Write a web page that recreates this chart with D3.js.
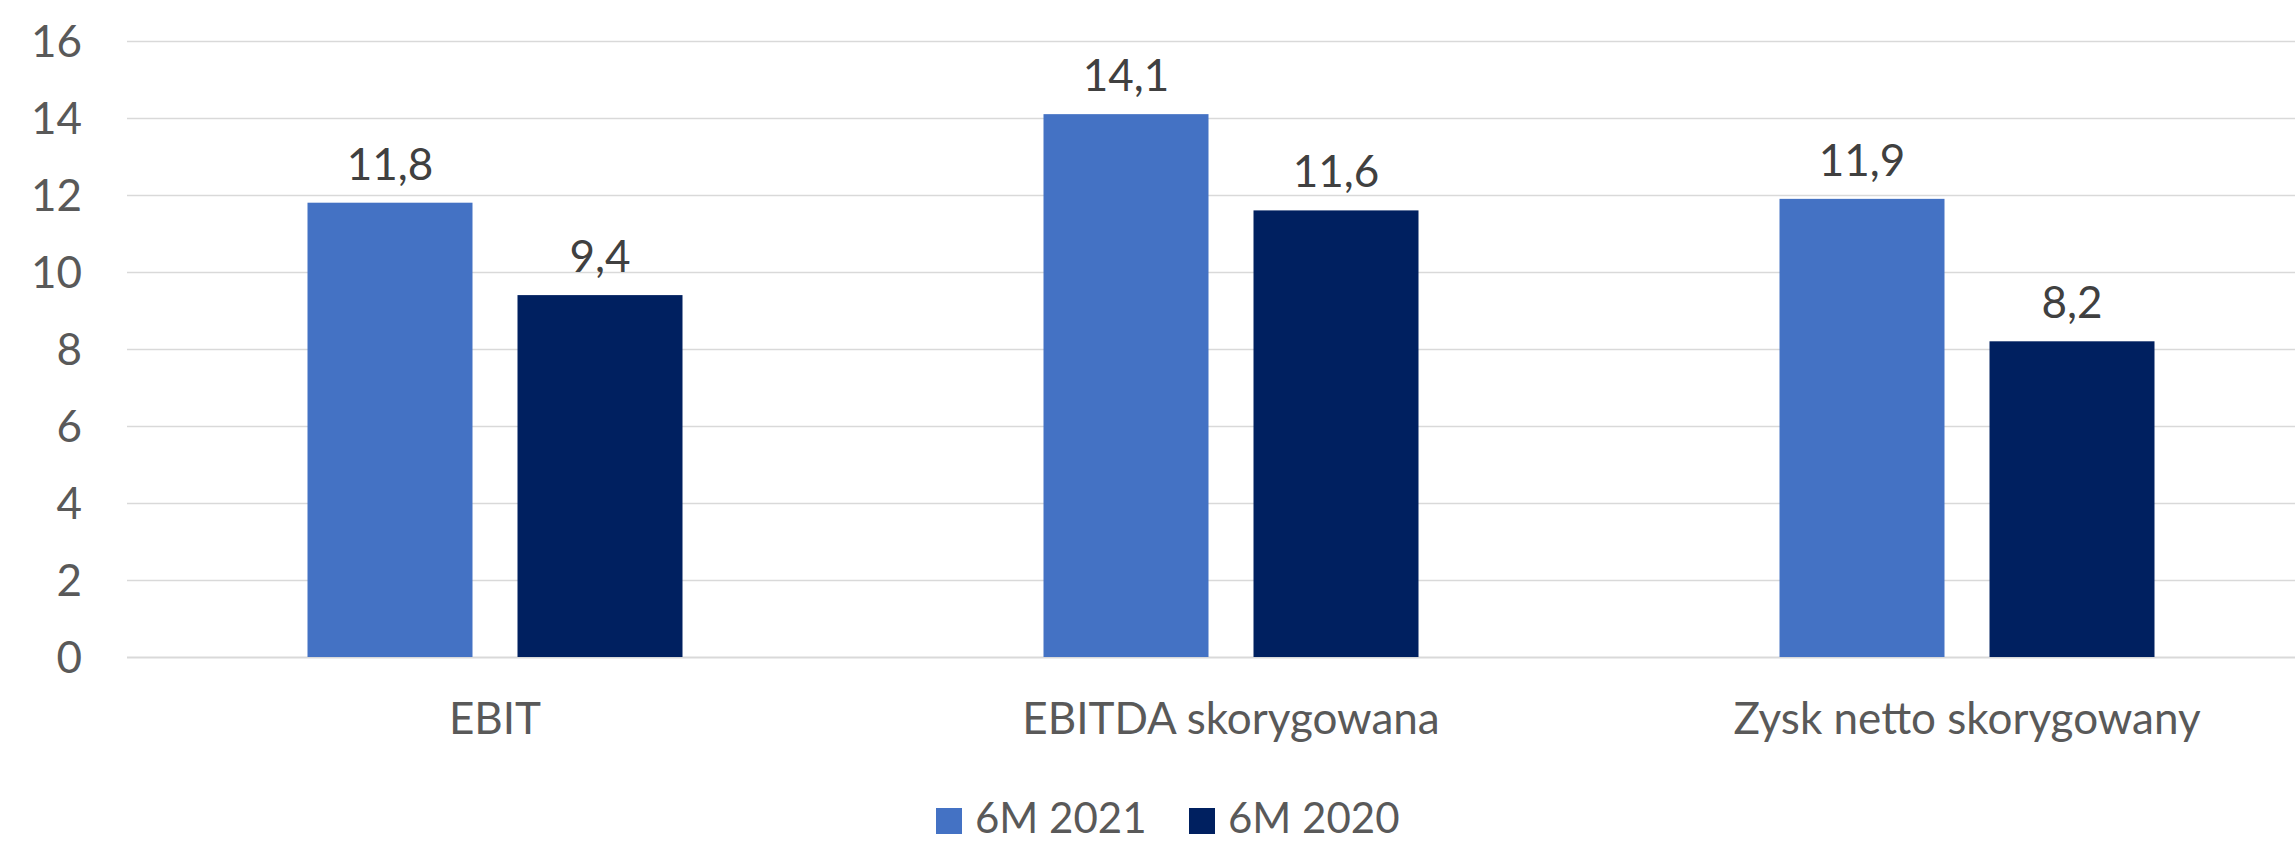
<!DOCTYPE html>
<html>
<head>
<meta charset="utf-8">
<script src="https://cdn.jsdelivr.net/npm/d3@7"></script>
<style>
  html, body { margin: 0; padding: 0; background: #ffffff; }
  svg { display: block; font-family: Lato, "Open Sans", sans-serif; }
</style>
</head>
<body>
<svg id="chart" width="2295" height="842"></svg>
<script>
// Wyniki finansowe (mln zł)
const categories = ["EBIT", "EBITDA skorygowana", "Zysk netto skorygowany"];
const seriesNames = ["6M 2021", "6M 2020"];
const values2021 = [11.8, 14.1, 11.9];
const values2020 = [9.4, 11.6, 8.2];
const yTicks = [0, 2, 4, 6, 8, 10, 12, 14, 16];
const seriesColors = ["#4472C4", "#002060"];

const series = [values2021, values2020];

const svg = d3.select("#chart");
const plot = { left: 127, right: 2335, top: 41, bottom: 657 };

const x = d3.scaleBand()
  .domain(categories)
  .range([plot.left, plot.right])
  .paddingInner(0)
  .paddingOuter(0);

const y = d3.scaleLinear()
  .domain([0, 16])
  .range([plot.bottom, plot.top]);

// inner band for the two series: 165px bars, 45px gap
const groupWidth = 375;
const xs = d3.scaleBand()
  .domain(seriesNames)
  .range([0, groupWidth])
  .paddingInner(45 / 210)
  .paddingOuter(0);

// horizontal gridlines
const grid = svg.append("g")
  .attr("transform", `translate(${plot.left},0)`)
  .call(d3.axisLeft(y).tickValues(yTicks).tickSize(-(plot.right - plot.left)).tickFormat(""));
grid.select(".domain").remove();
grid.selectAll(".tick line")
  .attr("stroke", "#D9D9D9")
  .attr("stroke-width", d => d === 0 ? 2 : 1.5);

// y-axis labels
const yAxis = svg.append("g")
  .attr("transform", `translate(82,0)`)
  .call(d3.axisLeft(y).tickValues(yTicks).tickSize(0).tickPadding(0).tickFormat(d3.format("d")));
yAxis.select(".domain").remove();
yAxis.selectAll(".tick text")
  .attr("fill", "#595959")
  .attr("font-size", 44)
  .attr("font-family", "Lato, 'Open Sans', sans-serif")
  .attr("dy", "0.36em");

// bars
const groups = svg.append("g").selectAll("g")
  .data(categories)
  .join("g")
  .attr("transform", d => `translate(${x(d) + x.bandwidth() / 2 - groupWidth / 2},0)`);

groups.selectAll("rect")
  .data((d, i) => seriesNames.map((s, k) => ({ s, k, v: series[k][i] })))
  .join("rect")
  .attr("x", d => xs(d.s))
  .attr("width", xs.bandwidth())
  .attr("y", d => y(d.v))
  .attr("height", d => y(0) - y(d.v))
  .attr("fill", d => seriesColors[d.k]);

// value labels
const fmt = v => d3.format(".1f")(v).replace(".", ",");
groups.selectAll("text.value")
  .data((d, i) => seriesNames.map((s, k) => ({ s, k, v: series[k][i] })))
  .join("text")
  .attr("class", "value")
  .attr("x", d => xs(d.s) + xs.bandwidth() / 2)
  .attr("y", d => y(d.v) - 23)
  .attr("text-anchor", "middle")
  .attr("fill", "#404040")
  .attr("font-size", 44)
  .text(d => fmt(d.v));

// category labels
const xAxis = svg.append("g")
  .attr("transform", `translate(0,${plot.bottom})`)
  .call(d3.axisBottom(x).tickSize(0).tickPadding(0));
xAxis.select(".domain").remove();
xAxis.selectAll(".tick text")
  .attr("fill", "#595959")
  .attr("font-size", 44)
  .attr("font-family", "Lato, 'Open Sans', sans-serif")
  .attr("dy", 0)
  .attr("y", 77);

// legend
const legendItems = [
  { name: seriesNames[0], color: seriesColors[0], sx: 936, tx: 975 },
  { name: seriesNames[1], color: seriesColors[1], sx: 1189, tx: 1228 }
];
const legend = svg.append("g");
legend.selectAll("rect")
  .data(legendItems)
  .join("rect")
  .attr("x", d => d.sx)
  .attr("y", 808)
  .attr("width", 26)
  .attr("height", 26)
  .attr("fill", d => d.color);
legend.selectAll("text")
  .data(legendItems)
  .join("text")
  .attr("x", d => d.tx)
  .attr("y", 833)
  .attr("fill", "#595959")
  .attr("font-size", 42)
  .text(d => d.name);
</script>
</body>
</html>
